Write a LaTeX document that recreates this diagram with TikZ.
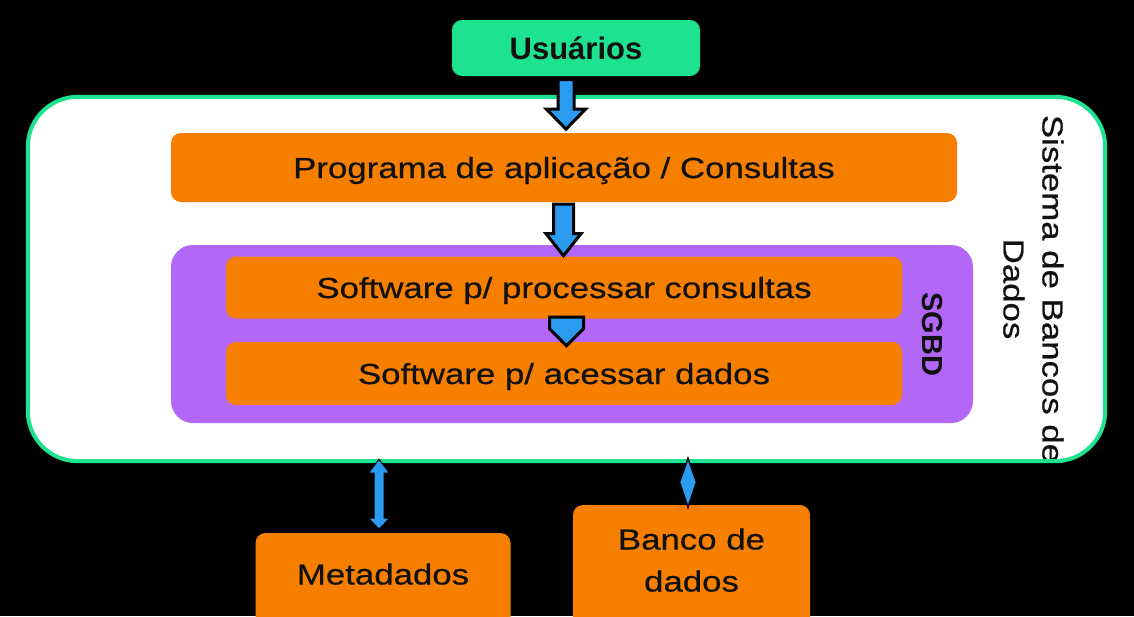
\documentclass[tikz,border=0pt]{standalone}
\usepackage{fontspec}
\setmainfont{Liberation Sans}
\newfontfamily\widefont{Liberation Sans}[FakeStretch=1.2,FakeBold=0.6]
\usetikzlibrary{calc}
\definecolor{sgreen}{HTML}{1DE28F}
\definecolor{orng}{HTML}{F77F00}
\definecolor{purp}{HTML}{B267F6}
\definecolor{arrblue}{HTML}{2B9BF0}
\definecolor{txt}{HTML}{111111}
\begin{document}
\begin{tikzpicture}[x=1pt,y=-1pt,
  orbox/.style={fill=orng, rounded corners=10pt, inner sep=0pt, text=txt,
    text height=21pt, text depth=0pt, font=\widefont\fontsize{29}{35}\selectfont},
  blockarrow/.style={fill=arrblue, draw=black, line width=3pt, line join=miter},
  thinarrow/.style={fill=arrblue, draw=black, line width=1pt, line join=miter}]
\useasboundingbox (0,0) rectangle (1134,616);
\fill[black] (0,0) rectangle (1134,616);

% outer system box
\node[fill=white, rounded corners=50pt, minimum width=1077, minimum height=364, inner sep=0pt] (sys) at (566.5,279) {};
\begin{scope}
  \clip[rounded corners=50pt] (sys.south west) rectangle (sys.north east);
  \node[rotate=-90, align=center, inner sep=0pt, text=txt, text height=60pt, text depth=0pt,
        font=\widefont\fontsize{29}{39}\selectfont] (sistxt) at (1033.5,289) {Sistema de Bancos de\\Dados};
\end{scope}
\draw[sgreen, line width=4pt, rounded corners=50pt] (sys.south west) rectangle (sys.north east);

% application layer
\node[orbox, minimum width=786, minimum height=69] (prog) at (564,167.5) {Programa de aplicação / Consultas};

% SGBD
\node[fill=purp, rounded corners=22pt, minimum width=802, minimum height=178, inner sep=0pt] (sgbd) at (572,334) {};
\node[orbox, minimum width=676, minimum height=62] (soft1) at (564,287.5) {Software p/ processar consultas};
\node[orbox, minimum width=676, minimum height=63] (soft2) at (564,373.5) {Software p/ acessar dados};
\node[rotate=-90, inner sep=0pt, text=txt, text height=21pt, text depth=0pt,
      font=\bfseries\fontsize{29}{35}\selectfont] (sgbdtxt) at (932.5,334.5) {SGBD};

% users
\node[fill=sgreen, rounded corners=10pt, minimum width=248, minimum height=56, inner sep=0pt, text=txt,
      text height=22pt, text depth=0pt, font=\bfseries\fontsize{31}{36}\selectfont] (usr) at (576,48) {Usuários};

% arrow users -> program
\draw[blockarrow] ($(usr.south -| prog.north)+(-6,3.5)$) -- ++(16,0) -- ++(0,29.5) -- ++(11.5,0)
  -- ++(-19.5,20) -- ++(-19.5,-20) -- ++(11.5,0) -- cycle;

% arrow program -> SGBD
\draw[blockarrow] ($(prog.south)+(-10.5,2)$) -- ++(20,0) -- ++(0,29.5) -- ++(7.5,0)
  -- ++(-17.5,22) -- ++(-17.5,-22) -- ++(7.5,0) -- cycle;

% pentagon between software layers
\draw[blockarrow] ($(soft1.south)+(-14.5,-1.5)$) -- ++(34,0) -- ++(0,11.5) -- ++(-17,17) -- ++(-17,-17) -- cycle;

% bottom boxes
\node[orbox, minimum width=255, minimum height=120, text depth=38pt] (meta) at (383,593) {Metadados};
\node[orbox, minimum width=237, minimum height=130, align=center, text height=63pt, text depth=20pt,
      font=\widefont\fontsize{29}{42}\selectfont] (bd) at (691.5,570) {Banco de\\dados};

% double arrow to metadata
\draw[thinarrow] ($(sys.south -| meta.north)+(-4,-2)$) -- ++(10.5,14) -- ++(-5.5,0) -- ++(0,45) -- ++(5.5,0)
  -- ++(-10.5,11) -- ++(-10.5,-11) -- ++(5.5,0) -- ++(0,-45) -- ++(-5.5,0) -- cycle;

% diamond to database
\draw[thinarrow, line width=1.5pt] ($(sys.south -| bd.north)+(-3.5,-3)$) -- ++(8.5,24) -- ++(-8.5,25) -- ++(-8.5,-25) -- cycle;
\end{tikzpicture}
\end{document}
